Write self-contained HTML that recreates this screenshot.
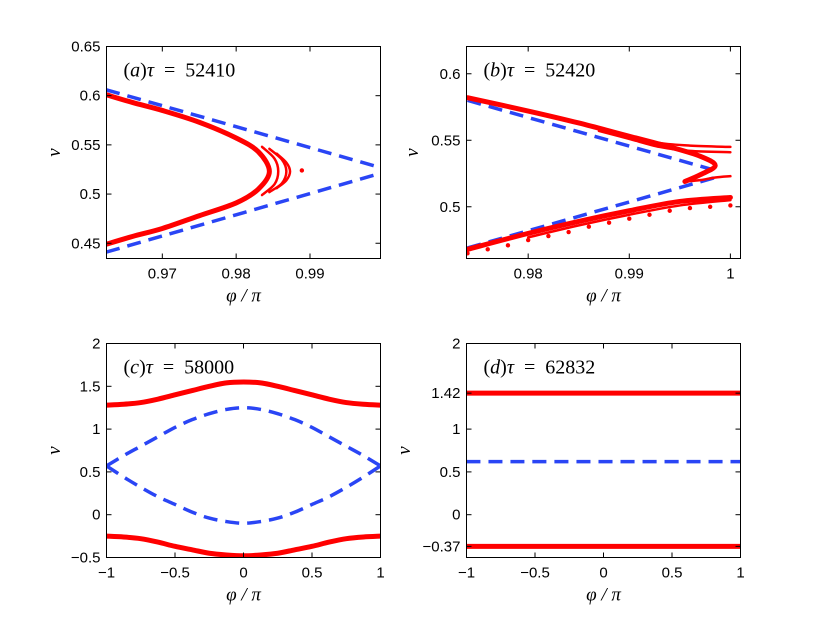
<!DOCTYPE html>
<html><head><meta charset="utf-8">
<style>
html,body{margin:0;padding:0;background:#fff;}
svg{display:block;}
.tick{font-family:"Liberation Sans",sans-serif;font-size:15px;fill:#000;}
.lab{font-family:"Liberation Serif",serif;font-style:italic;font-size:19px;fill:#000;}
.ttl{font-family:"Liberation Serif",serif;font-size:20px;fill:#000;}
</style></head>
<body>
<svg id="fig" width="817" height="626" viewBox="0 0 817 626"></svg>
<script>
// ---------- Panel (a) data ----------
const aXTicks=[0.97,0.98,0.99];
const aYTicks=[0.45,0.5,0.55,0.6,0.65];
const aRedX=[0.9624,0.966,0.97,0.975,0.98,0.983,0.9845,0.983,0.98,0.975,0.97,0.966,0.9624];
const aRedY=[0.601,0.593,0.585,0.573,0.557,0.543,0.523,0.505,0.491,0.478,0.465,0.457,0.449];
const aArc1X=[0.9835,0.9852,0.9857,0.9852,0.9835];
const aArc1Y=[0.548,0.536,0.523,0.510,0.499];
const aArc2X=[0.9845,0.9862,0.9868,0.9862,0.9845];
const aArc2Y=[0.546,0.535,0.523,0.511,0.502];
const aArc3X=[0.9855,0.9868,0.9873,0.9868,0.9855];
const aArc3Y=[0.541,0.532,0.523,0.514,0.506];
const aOutX=[0.9889];
const aOutY=[0.524];
const aBlueUpX=[0.9624,0.9995];
const aBlueUpY=[0.606,0.527];
const aBlueLoX=[0.9624,0.9995];
const aBlueLoY=[0.441,0.521];
// ---------- Panel (b) data ----------
const bXTicks=[0.98,0.99,1];
const bYTicks=[0.5,0.55,0.6];
const bRedUpX=[0.974,0.98,0.985,0.99,0.994,0.997,0.9985,0.997,0.9955];
const bRedUpY=[0.582,0.572,0.563,0.553,0.545,0.538,0.531,0.524,0.519];
const bRedMidX=[0.9955,0.997,0.9985,1.0];
const bRedMidY=[0.519,0.520,0.522,0.523];
const bRowTopX=[0.987,0.99,0.993,0.996,1.0];
const bRowTopY=[0.559,0.553,0.548,0.546,0.545];
const bRowMidX=[0.987,0.99,0.993,0.996,1.0];
const bRowMidY=[0.557,0.551,0.545,0.542,0.541];
const bRedLoX=[0.974,0.98,0.985,0.99,0.995,1.0];
const bRedLoY=[0.468,0.480,0.489,0.497,0.504,0.507];
const bRedLo2X=[0.98,0.985,0.99,0.995,1.0];
const bRedLo2Y=[0.477,0.486,0.494,0.501,0.505];
const bDotLoX=[0.974,0.976,0.978,0.98,0.982,0.984,0.986,0.988,0.99,0.992,0.994,0.996,0.998,1.0];
const bDotLoY=[0.465,0.468,0.471,0.475,0.478,0.481,0.485,0.488,0.491,0.494,0.497,0.499,0.500,0.501];
const bBlueUpX=[0.974,0.9982];
const bBlueUpY=[0.580,0.528];
const bBlueLoX=[0.974,0.9985];
const bBlueLoY=[0.469,0.522];
// ---------- Panel (c) data ----------
const cXTicks=[-1,-0.5,0,0.5,1];
const cYTicks=[-0.5,0,0.5,1,1.5,2];
const cX=[-1,-0.875,-0.75,-0.625,-0.5,-0.375,-0.25,-0.125,0,0.125,0.25,0.375,0.5,0.625,0.75,0.875,1];
const cRedTop=[1.28,1.29,1.31,1.35,1.40,1.45,1.50,1.54,1.55,1.54,1.50,1.45,1.40,1.35,1.31,1.29,1.28];
const cRedBot=[-0.25,-0.26,-0.28,-0.32,-0.37,-0.41,-0.45,-0.47,-0.48,-0.47,-0.45,-0.41,-0.37,-0.32,-0.28,-0.26,-0.25];
const cBlueTop=[0.57,0.69,0.80,0.91,1.02,1.11,1.18,1.23,1.25,1.23,1.18,1.11,1.02,0.91,0.80,0.69,0.57];
const cBlueBot=[0.57,0.44,0.32,0.21,0.12,0.03,-0.04,-0.08,-0.10,-0.08,-0.04,0.03,0.12,0.21,0.32,0.44,0.57];
// ---------- Panel (d) data ----------
const dXTicks=[-1,-0.5,0,0.5,1];
const dYTicks=[-0.37,0,0.5,1,1.42,2];
const dX=[-1,1];
const dRedTop=[1.42,1.42];
const dRedBot=[-0.37,-0.37];
const dBlue=[0.62,0.62];

const NS='http://www.w3.org/2000/svg';
const svg=document.getElementById('fig');
function mk(tag,attrs,parent){const e=document.createElementNS(NS,tag);for(const k in attrs)e.setAttribute(k,attrs[k]);(parent||svg).appendChild(e);return e;}

function makePanel(name,box,xd,yd){
  const g=mk('g',{});
  
  
  const clipId=name+'-clip';
  const cp=mk('clipPath',{id:clipId},g);
  mk('rect',{x:box.l,y:box.t,width:box.r-box.l,height:box.b-box.t},cp);
  const sx=v=>box.l+(v-xd[0])/(xd[1]-xd[0])*(box.r-box.l);
  const sy=v=>box.b-(v-yd[0])/(yd[1]-yd[0])*(box.b-box.t);
  const plot=mk('g',{'clip-path':'url(#'+clipId+')'},g);
  
  
  return {g,plot,sx,sy,box};
}
function smoothPath(P,xs,ys){
  const pts=xs.map((x,i)=>[P.sx(x),P.sy(ys[i])]);
  let d='M'+pts[0][0]+','+pts[0][1];
  for(let i=0;i<pts.length-1;i++){
    const p0=pts[Math.max(i-1,0)],p1=pts[i],p2=pts[i+1],p3=pts[Math.min(i+2,pts.length-1)];
    const c1=[p1[0]+(p2[0]-p0[0])/6,p1[1]+(p2[1]-p0[1])/6];
    const c2=[p2[0]-(p3[0]-p1[0])/6,p2[1]-(p3[1]-p1[1])/6];
    d+=' C'+c1[0]+','+c1[1]+' '+c2[0]+','+c2[1]+' '+p2[0]+','+p2[1];
  }
  return d;
}
function curve(P,xs,ys,style,nm){
  const e=mk('path',Object.assign({d:smoothPath(P,xs,ys),fill:'none','stroke-linecap':'round','stroke-linejoin':'round'},style),P.plot);
  
  
  return e;
}
function dots(P,xs,ys,r,nm){
  const g=mk('g',{},P.plot);
  
  
  xs.forEach((x,i)=>mk('circle',{cx:P.sx(x),cy:P.sy(ys[i]),r:r,fill:'#ff0000'},g));
}
const RED={stroke:'#ff0000','stroke-width':5};
const RED2={stroke:'#ff0000','stroke-width':2.5};
const BLUE={stroke:'#2a45f5','stroke-width':3.5,'stroke-dasharray':'14 8','stroke-linecap':'butt'};

function axes(P,xt,yt,xfmt,yfmt,title,lx){
  const b=P.box;
  const box=mk('rect',{x:b.l,y:b.t,width:b.r-b.l,height:b.b-b.t,fill:'none',stroke:'#000','stroke-width':1},P.g);
  
  
  const tg=mk('g',{},P.g);
  
  
  xt.forEach(v=>{
    const x=P.sx(v);
    mk('line',{x1:x,x2:x,y1:b.b,y2:b.b-5,stroke:'#000'},tg);
    mk('line',{x1:x,x2:x,y1:b.t,y2:b.t+5,stroke:'#000'},tg);
    const t=mk('text',{x:x,y:b.b+20,'text-anchor':'middle',class:'tick'},tg);
    t.textContent=xfmt(v);
    
    
  });
  yt.forEach(v=>{
    const y=P.sy(v);
    mk('line',{x1:b.l,x2:b.l+5,y1:y,y2:y,stroke:'#000'},tg);
    mk('line',{x1:b.r,x2:b.r-5,y1:y,y2:y,stroke:'#000'},tg);
    const t=mk('text',{x:b.l-6,y:y+5,'text-anchor':'end',class:'tick'},tg);
    t.textContent=yfmt(v);
    
    
  });
  const tt=mk('text',{x:b.l+17,y:b.t+30,class:'ttl'},P.g);
  tt.innerHTML='(<tspan font-style="italic">'+title[0]+'</tspan>)<tspan font-style="italic">τ</tspan>  =  '+title[1];
  tt.setAttribute('xml:space','preserve');
  tt.setAttribute('style','white-space:pre');
  
  
  const xl=mk('text',{x:(b.l+b.r)/2,y:b.b+43,'text-anchor':'middle',class:'lab'},P.g);
  xl.textContent='φ / π';
  
  
  const cy=(b.t+b.b)/2;
  const yl=mk('text',{x:lx,y:cy,'text-anchor':'middle',class:'lab',transform:'rotate(-90 '+lx+' '+cy+')'},P.g);
  yl.textContent='v';
  
  
}
const minus=s=>s.replace('-','−');
const f2=v=>minus(String(v));

// Panel a
const A=makePanel('panel-a',{l:106.5,r:380.5,t:46.5,b:258.5},[0.96244,0.99955],[0.4345,0.65]);
curve(A,aBlueUpX,aBlueUpY,BLUE,'blue-upper-line');
curve(A,aBlueLoX,aBlueLoY,BLUE,'blue-lower-line');
curve(A,aRedX,aRedY,RED,'red-curve');
curve(A,aArc1X,aArc1Y,RED2,'red-arc-1');
curve(A,aArc2X,aArc2Y,RED2,'red-arc-2');
curve(A,aArc3X,aArc3Y,RED2,'red-arc-3');
dots(A,aOutX,aOutY,2.2,'red-outlier');
axes(A,aXTicks,aYTicks,v=>v.toFixed(2),v=>String(v),['a','52410'],60);

// Panel b
const B=makePanel('panel-b',{l:466.5,r:740.5,t:46.5,b:258.5},[0.9739,1.001],[0.4611,0.6205]);
curve(B,bBlueUpX,bBlueUpY,BLUE,'blue-upper-line');
curve(B,bBlueLoX,bBlueLoY,BLUE,'blue-lower-line');
curve(B,bRedUpX,bRedUpY,RED,'red-upper-branch');
curve(B,bRedMidX,bRedMidY,RED2,'red-mid-branch');
curve(B,bRowTopX,bRowTopY,RED2,'red-row-top');
curve(B,bRowMidX,bRowMidY,RED2,'red-row-mid');
curve(B,bRedLoX,bRedLoY,RED,'red-lower-branch');
curve(B,bRedLo2X,bRedLo2Y,RED2,'red-lower-branch-2');
dots(B,bDotLoX,bDotLoY,2.2,'red-lower-dots');
axes(B,bXTicks,bYTicks,v=>v===1?'1':v.toFixed(2),v=>String(v),['b','52420'],418);

// Panel c
const C=makePanel('panel-c',{l:106.5,r:380.5,t:343.5,b:557.5},[-1,1],[-0.5,2]);
curve(C,cX,cBlueTop,BLUE,'blue-upper-curve');
curve(C,cX,cBlueBot,BLUE,'blue-lower-curve');
curve(C,cX,cRedTop,RED,'red-upper-curve');
curve(C,cX,cRedBot,RED,'red-lower-curve');
axes(C,cXTicks,cYTicks,f2,f2,['c','58000'],60);

// Panel d
const D=makePanel('panel-d',{l:466.5,r:740.5,t:343.5,b:557.5},[-1,1],[-0.5,2]);
curve(D,dX,dBlue,BLUE,'blue-line');
curve(D,dX,dRedTop,RED,'red-upper-line');
curve(D,dX,dRedBot,RED,'red-lower-line');
axes(D,dXTicks,dYTicks,f2,f2,['d','62832'],410);
</script>
</body></html>
